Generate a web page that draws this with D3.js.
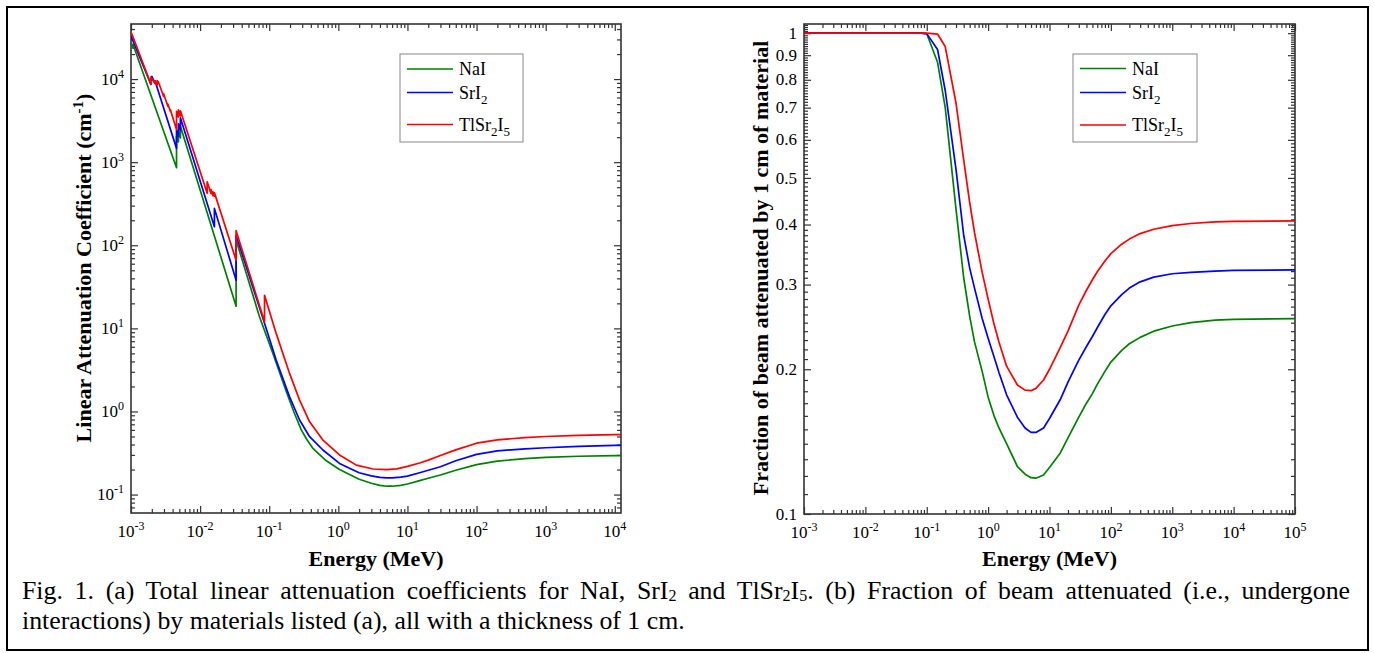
<!DOCTYPE html>
<html>
<head>
<meta charset="utf-8">
<script src="https://cdn.jsdelivr.net/npm/d3@7"></script>
<style>
body { margin: 0; background: #fff; }
svg, svg text { font-family: "Liberation Serif", "Times New Roman", serif; fill: #000; }
</style>
</head>
<body>
<svg id="fig" width="1374" height="653" font-family="Liberation Serif, serif"></svg>
<script>
// ---- (a) linear attenuation coefficient (cm^-1) vs energy (MeV)
const naiEnergy = [0.001, 0.00107, 0.00107, 0.004557, 0.004557, 0.004852, 0.004852, 0.005188, 0.005188,
    0.03317, 0.03317, 0.0723, 0.113, 0.176, 0.226, 0.291, 0.35, 0.428, 0.67, 1.04, 1.5, 2, 3, 4, 5, 6, 8,
    10, 15, 20, 30, 50, 100, 200, 500, 1000, 3000, 10000, 100000];
const naiMu = [2.8e4, 2.35e4, 2.6e4, 857, 2050, 1750, 2350, 1960, 2700,
    18.5, 116, 13.8, 5.0, 1.75, 1.0, 0.6, 0.46, 0.36, 0.255, 0.2, 0.172, 0.153, 0.137, 0.129, 0.126, 0.126, 0.129,
    0.134, 0.147, 0.157, 0.172, 0.196, 0.229, 0.252, 0.271, 0.280, 0.289, 0.294, 0.297];

const sriEnergy = [0.001, 0.00194, 0.00194, 0.002007, 0.002007, 0.002216, 0.002216, 0.004557, 0.004557,
    0.004852, 0.004852, 0.005188, 0.005188, 0.0161, 0.0161, 0.03317, 0.03317, 0.0855, 0.126, 0.197, 0.275,
    0.384, 0.598, 1.04, 1.5, 2, 3, 4, 5, 6, 8, 10, 15, 20, 30, 50, 100, 200, 500, 1000, 3000, 10000, 100000];
const sriMu = [3.3e4, 8600, 1.05e4, 9800, 1.08e4, 8900, 9600, 1466, 2430,
    2050, 2900, 2420, 3420, 167, 278, 38, 132, 11.5, 4.16, 1.50, 0.79,
    0.497, 0.344, 0.237, 0.205, 0.183, 0.168, 0.161, 0.159, 0.159, 0.162, 0.167, 0.183, 0.196, 0.216, 0.255,
    0.305, 0.335, 0.355, 0.366, 0.38, 0.39, 0.393];

const tlsEnergy = [0.001, 0.00194, 0.00194, 0.002216, 0.002216, 0.002389, 0.002389, 0.002485, 0.002485,
    0.002957, 0.002957, 0.003416, 0.003416, 0.003704, 0.003704, 0.004557, 0.004557, 0.004852, 0.004852,
    0.005188, 0.005188, 0.01266, 0.01266, 0.01435, 0.01435, 0.01535, 0.01535, 0.0161, 0.0161, 0.03317, 0.03317,
    0.0855, 0.0855, 0.126, 0.197, 0.275, 0.384, 0.598, 1.04, 1.82, 3.18, 5, 7, 10, 15, 20, 30, 50, 100, 200,
    500, 1000, 3000, 10000, 100000];
const tlsMu = [3.7e4, 8700, 1.05e4, 8900, 9500, 8500, 9600, 8900, 9300,
    6200, 6700, 4700, 5000, 4100, 4300, 2450, 4100, 3500, 4250,
    3600, 4150, 422, 580, 420, 470, 395, 440, 390, 430, 66, 150,
    12, 25, 8.7, 2.87, 1.37, 0.75, 0.453, 0.30, 0.226, 0.203, 0.200, 0.204, 0.218, 0.24, 0.26, 0.295, 0.345, 0.415, 0.455,
    0.485, 0.5, 0.515, 0.525, 0.53];

// ---- (b) fraction of beam attenuated by 1 cm
const fracEnergy = [0.001, 0.01, 0.08, 0.1, 0.15, 0.2, 0.3, 0.4, 0.5, 0.6, 0.8, 1, 1.25, 1.5, 2, 3, 4, 5, 6, 8,
    10, 15, 20, 30, 40, 50, 60, 80, 100, 150, 200, 300, 500, 1000, 2000, 5000, 10000, 100000];
const naiFrac = [1, 1, 1, 0.997, 0.87, 0.70, 0.43, 0.31, 0.258, 0.228, 0.198, 0.175, 0.16, 0.151, 0.14, 0.1255,
    0.121, 0.119, 0.1187, 0.1205, 0.125, 0.134, 0.144, 0.159, 0.170, 0.178, 0.186, 0.198, 0.207, 0.219, 0.226,
    0.233, 0.240, 0.246, 0.250, 0.253, 0.254, 0.255];
const sriFrac = [1, 1, 1, 0.998, 0.925, 0.76, 0.52, 0.38, 0.325, 0.295, 0.255, 0.232, 0.212, 0.197, 0.177, 0.159,
    0.151, 0.1478, 0.1478, 0.151, 0.158, 0.173, 0.188, 0.209, 0.223, 0.234, 0.244, 0.26, 0.271, 0.286, 0.295,
    0.304, 0.311, 0.316, 0.318, 0.320, 0.321, 0.322];
const tlsFrac = [1, 1, 1, 1, 0.996, 0.938, 0.715, 0.545, 0.445, 0.385, 0.318, 0.28, 0.248, 0.228, 0.203, 0.1855,
    0.181, 0.1805, 0.1825, 0.19, 0.2, 0.222, 0.24, 0.272, 0.292, 0.307, 0.319, 0.336, 0.348, 0.364, 0.373,
    0.383, 0.391, 0.398, 0.402, 0.405, 0.406, 0.407];

// ticks
const leftXExp = [-3, -2, -1, 0, 1, 2, 3, 4];
const leftYExp = [-1, 0, 1, 2, 3, 4];
const rightXExp = [-3, -2, -1, 0, 1, 2, 3, 4, 5];
const rightYTicks = [0.1, 0.2, 0.3, 0.4, 0.5, 0.6, 0.7, 0.8, 0.9, 1];

// legend labels: [text, isSubscript]
const seriesLabels = [
    [["NaI", 0]],
    [["SrI", 0], ["2", 1]],
    [["TlSr", 0], ["2", 1], ["I", 0], ["5", 1]]
];
const seriesColors = ["#008000", "#0000ff", "#ff0000"];

const captionLine1 = [["Fig. 1. (a) Total linear attenuation coefficients for NaI, SrI", 0], ["2", 1],
    [" and TlSr", 0], ["2", 1], ["I", 0], ["5", 1],
    [". (b) Fraction of beam attenuated (i.e., undergone", 0]];
const captionLine2 = "interactions) by materials listed (a), all with a thickness of 1 cm.";

var svg = d3.select("#fig");
svg.append("rect").attr("x", 7).attr("y", 7).attr("width", 1361).attr("height", 643)
    .attr("fill", "none").attr("stroke", "#000").attr("stroke-width", 2);

function rich(sel, parts, subSize, shift) {
    var down = false;
    parts.forEach(function(p) {
        var t = sel.append("tspan").text(p[0]);
        if (p[1]) {
            t.attr("dy", shift).style("font-size", subSize + "px");
            down = true;
        } else if (down) {
            t.attr("dy", -shift);
            down = false;
        }
    });
}

function logMinor(lo, hi, e0, e1) {
    var out = [];
    for (var e = e0; e <= e1; e++)
        for (var k = 2; k <= 9; k++) {
            var v = k * Math.pow(10, e);
            if (v > lo && v < hi) out.push(v);
        }
    return out;
}

function drawPanel(cfg) {
    var x = cfg.x, y = cfg.y;
    var x0 = x.range()[0], x1 = x.range()[1], yb = y.range()[0], yt = y.range()[1];
    var g = svg.append("g");

    svg.append("clipPath").attr("id", cfg.id).append("rect")
        .attr("x", x0).attr("y", yt).attr("width", x1 - x0).attr("height", yb - yt);

    // ticks inward on all four sides
    function tickSet(xv, yv, len) {
        var noDom = function(s) { s.select(".domain").remove(); };
        g.append("g").attr("class", "tk").attr("transform", "translate(0," + yb + ")")
            .call(d3.axisBottom(x).tickValues(xv).tickSize(-len).tickSizeOuter(0).tickFormat("")).call(noDom);
        g.append("g").attr("class", "tk").attr("transform", "translate(0," + yt + ")")
            .call(d3.axisTop(x).tickValues(xv).tickSize(-len).tickSizeOuter(0).tickFormat("")).call(noDom);
        g.append("g").attr("class", "tk").attr("transform", "translate(" + x0 + ",0)")
            .call(d3.axisLeft(y).tickValues(yv).tickSize(-len).tickSizeOuter(0).tickFormat("")).call(noDom);
        g.append("g").attr("class", "tk").attr("transform", "translate(" + x1 + ",0)")
            .call(d3.axisRight(y).tickValues(yv).tickSize(-len).tickSizeOuter(0).tickFormat("")).call(noDom);
    }
    tickSet(cfg.xMinor, cfg.yMinor, 4);
    tickSet(cfg.xMajor, cfg.yMajor, 7);
    g.selectAll(".tk line").attr("stroke", "#333").attr("stroke-width", 1.2);

    g.append("rect").attr("x", x0).attr("y", yt).attr("width", x1 - x0).attr("height", yb - yt)
        .attr("fill", "none").attr("stroke", "#333").attr("stroke-width", 1.6);

    // x tick labels 10^n
    g.selectAll(".xl").data(cfg.xMajor).enter().append("text")
        .attr("x", function(d) { return x(d); }).attr("y", yb + 24)
        .attr("text-anchor", "middle").style("font-size", "17px")
        .each(function(d) {
            var t = d3.select(this);
            t.append("tspan").text("10");
            t.append("tspan").attr("dy", -7).style("font-size", "12px").text(Math.round(Math.log10(d)));
        });

    // y tick labels
    g.selectAll(".yl").data(cfg.yMajor).enter().append("text")
        .attr("x", x0 - 7).attr("y", function(d) { return y(d); })
        .attr("dy", "0.33em").attr("text-anchor", "end").style("font-size", "17px")
        .each(function(d) {
            var t = d3.select(this);
            if (cfg.yPow) {
                t.append("tspan").text("10");
                t.append("tspan").attr("dy", -7).style("font-size", "12px").text(Math.round(Math.log10(d)));
            } else {
                t.text(d3.format("~g")(d));
            }
        });

    // axis titles
    g.append("text").attr("x", (x0 + x1) / 2).attr("y", 566).attr("text-anchor", "middle")
        .style("font-size", "22px").style("font-weight", "bold").text("Energy (MeV)");
    var yt2 = g.append("text").attr("transform", "translate(" + cfg.titleX + ",268) rotate(-90)")
        .attr("text-anchor", "middle").style("font-size", "22px").style("font-weight", "bold");
    cfg.yTitle(yt2);

    // curves
    var line = d3.line().x(function(d) { return x(d[0]); }).y(function(d) { return y(d[1]); });
    var lg = g.append("g").attr("clip-path", "url(#" + cfg.id + ")");
    cfg.series.forEach(function(s, i) {
        lg.append("path").datum(s).attr("d", line).attr("fill", "none")
            .attr("stroke", seriesColors[i]).attr("stroke-width", 1.7).attr("stroke-linejoin", "round");
    });

    // legend
    var L = cfg.legend;
    g.append("rect").attr("x", L.x).attr("y", L.y).attr("width", L.w).attr("height", L.h)
        .attr("fill", "#fff").attr("stroke", "#888").attr("stroke-width", 1);
    L.rows.forEach(function(ry, i) {
        g.append("line").attr("x1", L.x + 7).attr("x2", L.x + 53).attr("y1", L.y + ry).attr("y2", L.y + ry)
            .attr("stroke", seriesColors[i]).attr("stroke-width", 1.7);
        var t = g.append("text").attr("x", L.x + 59).attr("y", L.y + ry + 6).style("font-size", "18px");
        rich(t, seriesLabels[i], 13, 5);
    });
}

var xL = d3.scaleLog().domain([1e-3, 1.23e4]).range([131, 621]);
var yL = d3.scaleLog().domain([0.06, 4.6e4]).range([513, 24]);
drawPanel({
    id: "clipA", x: xL, y: yL, yPow: true,
    xMajor: leftXExp.map(function(e) { return Math.pow(10, e); }),
    yMajor: leftYExp.map(function(e) { return Math.pow(10, e); }),
    xMinor: logMinor(1e-3, 1.23e4, -3, 4),
    yMinor: logMinor(0.06, 4.6e4, -2, 4),
    titleX: 91,
    yTitle: function(t) {
        t.append("tspan").text("Linear Attenuation Coefficient (cm");
        t.append("tspan").attr("dy", -8).style("font-size", "15px").text("-1");
        t.append("tspan").attr("dy", 8).text(")");
    },
    series: [d3.zip(naiEnergy, naiMu), d3.zip(sriEnergy, sriMu), d3.zip(tlsEnergy, tlsMu)],
    legend: { x: 400, y: 54, w: 123, h: 88, rows: [15, 38.5, 70.5] }
});

var xR = d3.scaleLog().domain([1e-3, 1e5]).range([804, 1295]);
var yR = d3.scaleLog().domain([0.1, 1.045]).range([514, 24]);
var rMinor = d3.range(10, 105).map(function(v) { return v / 100; })
    .filter(function(v) { return Math.round(v * 100) % 10 !== 0; });
drawPanel({
    id: "clipB", x: xR, y: yR, yPow: false,
    xMajor: rightXExp.map(function(e) { return Math.pow(10, e); }),
    yMajor: rightYTicks,
    xMinor: logMinor(1e-3, 1e5, -3, 5),
    yMinor: rMinor,
    titleX: 768,
    yTitle: function(t) { t.text("Fraction of beam attenuated by 1 cm of material"); },
    series: [d3.zip(fracEnergy, naiFrac), d3.zip(fracEnergy, sriFrac), d3.zip(fracEnergy, tlsFrac)],
    legend: { x: 1073, y: 54, w: 124, h: 88, rows: [14.5, 38.5, 71] }
});

// caption, first line justified
var c1 = svg.append("text").attr("x", 22).attr("y", 599).style("font-size", "25.8px");
rich(c1, captionLine1, 16, 2);
var natural = c1.node().getComputedTextLength();
var nSpaces = captionLine1.map(function(p) { return p[0]; }).join("").split(" ").length - 1;
c1.attr("word-spacing", Math.max(0, ((1350 - 22) - natural) / nSpaces));
svg.append("text").attr("x", 22).attr("y", 629).style("font-size", "25.8px").text(captionLine2);
</script>
</body>
</html>
